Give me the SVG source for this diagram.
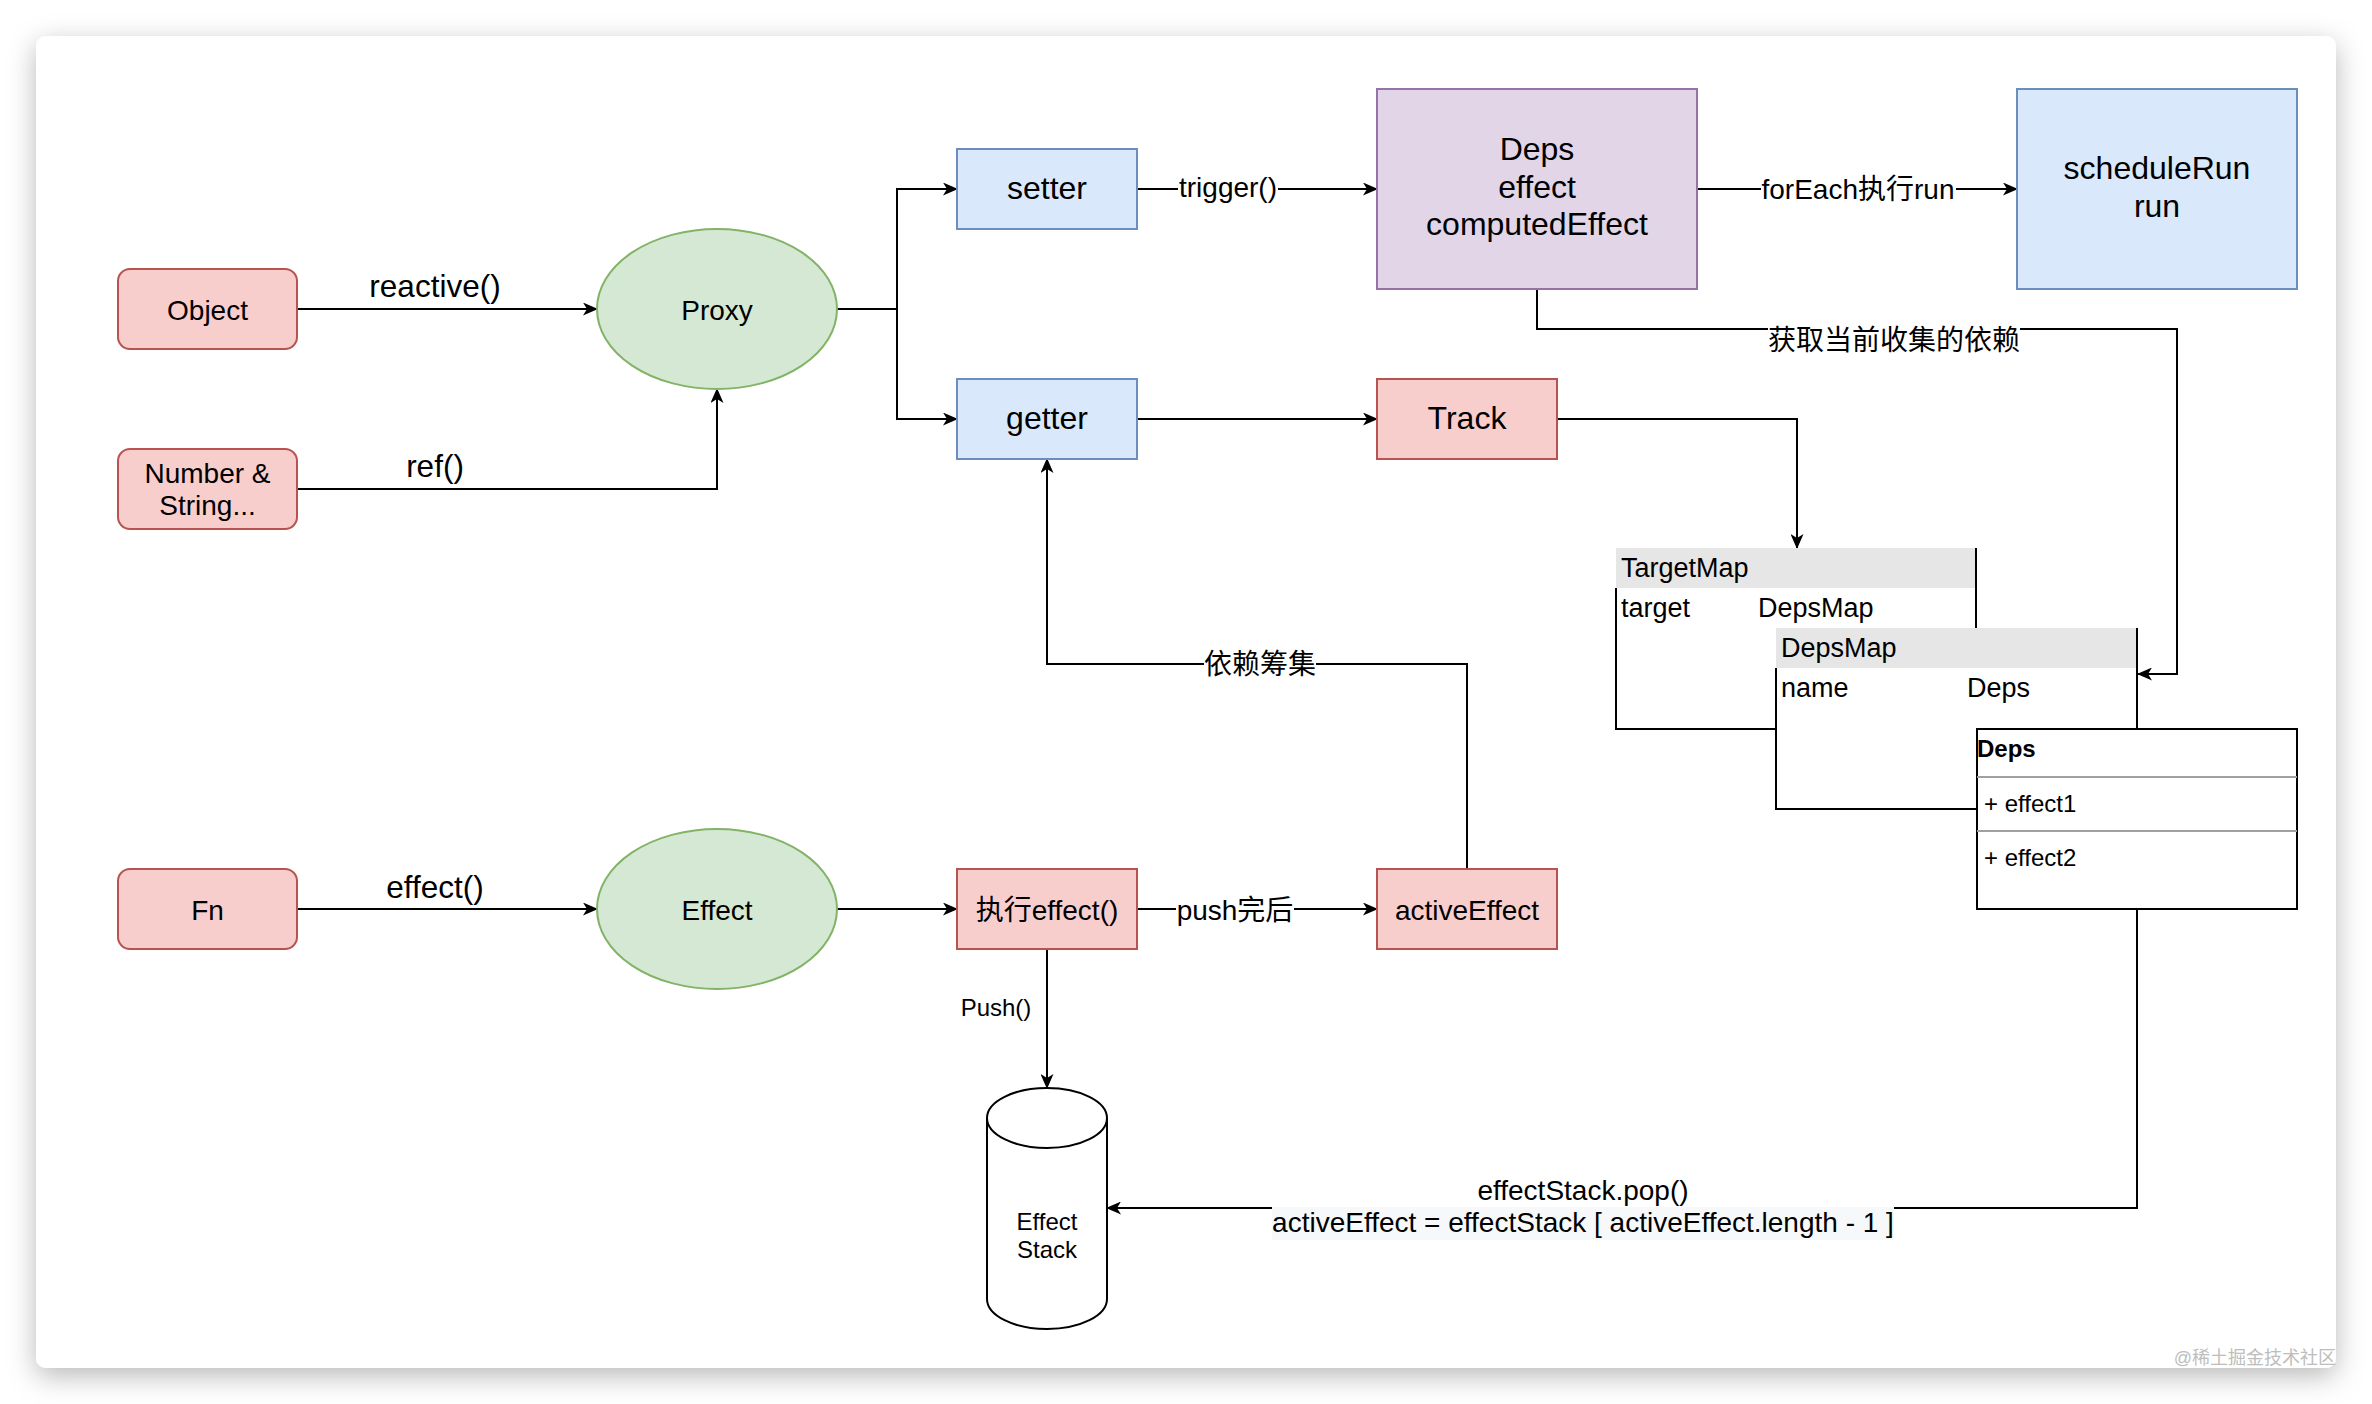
<svg xmlns="http://www.w3.org/2000/svg" width="2372" height="1404" viewBox="0 0 2372 1404">
<style>
text{font-family:"Liberation Sans",Arial,"Noto Sans CJK SC",sans-serif;fill:#000}
.c{text-anchor:middle}
.n28{font-size:28px}
.n32{font-size:32px}
.e{font-size:31.5px}
.s24{font-size:24px}
.t27{font-size:27px}
.red{fill:#f8cecc;stroke:#b85450;stroke-width:2}
.blue{fill:#dae8fc;stroke:#6c8ebf;stroke-width:2}
.green{fill:#d5e8d4;stroke:#82b366;stroke-width:2}
.purple{fill:#e1d5e7;stroke:#9673a6;stroke-width:2}
.ln{fill:none;stroke:#000;stroke-width:2}
.arr{fill:none;stroke:#000;stroke-width:2;marker-end:url(#ah)}
.hdr{fill:#e6e6e6}
.bg{fill:#fff}
</style>
<defs>
<marker id="ah" markerUnits="userSpaceOnUse" viewBox="0 0 15 13" refX="14" refY="6.5" markerWidth="15" markerHeight="13" orient="auto">
<path d="M0,0 L15,6.5 L0,13 L4,6.5 Z" fill="#000"/>
</marker>
<filter id="sh" x="-5%" y="-5%" width="110%" height="110%">
<feDropShadow dx="0" dy="8" stdDeviation="14" flood-color="#000" flood-opacity="0.28"/>
</filter>
</defs>
<rect x="0" y="0" width="2372" height="1404" fill="#fff"/>
<rect x="36" y="36" width="2300" height="1332" rx="10" fill="#fff" filter="url(#sh)"/>

<g id="connectors">
<path class="arr" d="M297,309 H597"/>
<path class="arr" d="M297,489 H717 V389"/>
<path class="arr" d="M837,309 H897 V189 H957"/>
<path class="arr" d="M897,309 V419 H957"/>
<path class="arr" d="M1137,189 H1377"/>
<path class="arr" d="M1697,189 H2017"/>
<path class="arr" d="M1537,289 V329 H2177 V674 H2138"/>
<path class="arr" d="M1137,419 H1377"/>
<path class="arr" d="M1557,419 H1797 V548"/>
<path class="arr" d="M297,909 H597"/>
<path class="arr" d="M837,909 H957"/>
<path class="arr" d="M1137,909 H1377"/>
<path class="arr" d="M1467,869 V664 H1047 V459"/>
<path class="arr" d="M1047,949 V1088"/>
<path class="arr" d="M2137,909 V1208 H1107"/>
<!-- labels -->
<text class="e c" x="435" y="297">reactive()</text>
<text class="e c" x="435" y="477">ref()</text>
<text class="e c" x="435" y="898">effect()</text>
<rect class="bg" x="1178" y="174" width="100" height="30"/>
<text class="n28 c" x="1228" y="197">trigger()</text>
<rect class="bg" x="1761" y="174" width="195" height="32"/>
<text class="n28 c" x="1858" y="199">forEach执行run</text>
<rect class="bg" x="1768" y="322" width="252" height="34"/>
<text class="n28 c" x="1894" y="350">获取当前收集的依赖</text>
<rect class="bg" x="1204" y="650" width="112" height="30"/>
<text class="n28 c" x="1260" y="674">依赖筹集</text>
<rect class="bg" x="1176" y="896" width="118" height="32"/>
<text class="n28 c" x="1235" y="920">push完后</text>
<text class="s24 c" x="996" y="1016">Push()</text>
<rect class="bg" x="1272" y="1176" width="622" height="32"/>
<rect x="1272" y="1207" width="622" height="33" fill="#f6f8fa"/>
<text class="n28 c" x="1583" y="1200">effectStack.pop()</text>
<text class="n28 c" x="1583" y="1232">activeEffect = effectStack [ activeEffect.length - 1 ]</text>
</g>

<g id="node-object">
<rect class="red" x="118" y="269" width="179" height="80" rx="12"/>
<text class="n28 c" x="207.5" y="320">Object</text>
</g>
<g id="node-number">
<rect class="red" x="118" y="449" width="179" height="80" rx="12"/>
<text class="n28 c" x="207.5" y="483">Number &amp;</text>
<text class="n28 c" x="207.5" y="515">String...</text>
</g>
<g id="node-proxy">
<ellipse class="green" cx="717" cy="309" rx="120" ry="80"/>
<text class="n28 c" x="717" y="320">Proxy</text>
</g>
<g id="node-setter">
<rect class="blue" x="957" y="149" width="180" height="80"/>
<text class="n32 c" x="1047" y="199">setter</text>
</g>
<g id="node-getter">
<rect class="blue" x="957" y="379" width="180" height="80"/>
<text class="n32 c" x="1047" y="429">getter</text>
</g>
<g id="node-deps">
<rect class="purple" x="1377" y="89" width="320" height="200"/>
<text class="n32 c" x="1537" y="160">Deps</text>
<text class="n32 c" x="1537" y="197.5">effect</text>
<text class="n32 c" x="1537" y="235">computedEffect</text>
</g>
<g id="node-schedule">
<rect class="blue" x="2017" y="89" width="280" height="200"/>
<text class="n32 c" x="2157" y="179">scheduleRun</text>
<text class="n32 c" x="2157" y="217">run</text>
</g>
<g id="node-track">
<rect class="red" x="1377" y="379" width="180" height="80"/>
<text class="n32 c" x="1467" y="429">Track</text>
</g>
<g id="node-targetmap">
<rect class="bg" x="1616" y="548" width="360" height="181"/>
<rect class="hdr" x="1616" y="548" width="360" height="40"/>
<path class="ln" d="M1976,548 V729 H1616 V588"/>
<text class="t27" x="1621" y="577">TargetMap</text>
<text class="t27" x="1621" y="617">target</text>
<text class="t27" x="1758" y="617">DepsMap</text>
</g>
<g id="node-depsmap">
<rect class="bg" x="1776" y="628" width="361" height="181"/>
<rect class="hdr" x="1776" y="628" width="361" height="40"/>
<path class="ln" d="M2137,628 V809 H1776 V668"/>
<text class="t27" x="1781" y="657">DepsMap</text>
<text class="t27" x="1781" y="697">name</text>
<text class="t27" x="1967" y="697">Deps</text>
</g>
<g id="node-depsclass">
<rect x="1977" y="729" width="320" height="180" fill="#fff" stroke="#000" stroke-width="2"/>
<line x1="1977" y1="777" x2="2297" y2="777" stroke="#a0a0a0" stroke-width="2"/>
<line x1="1977" y1="831" x2="2297" y2="831" stroke="#a0a0a0" stroke-width="2"/>
<text class="s24" x="1977" y="757" font-weight="bold">Deps</text>
<text class="s24" x="1984" y="812">+ effect1</text>
<text class="s24" x="1984" y="866">+ effect2</text>
</g>
<g id="node-fn">
<rect class="red" x="118" y="869" width="179" height="80" rx="12"/>
<text class="n28 c" x="207.5" y="920">Fn</text>
</g>
<g id="node-effect">
<ellipse class="green" cx="717" cy="909" rx="120" ry="80"/>
<text class="n28 c" x="717" y="920">Effect</text>
</g>
<g id="node-run-effect">
<rect class="red" x="957" y="869" width="180" height="80"/>
<text class="n28 c" x="1047" y="920">执行effect()</text>
</g>
<g id="node-active-effect">
<rect class="red" x="1377" y="869" width="180" height="80"/>
<text class="n28 c" x="1467" y="920">activeEffect</text>
</g>
<g id="node-effect-stack">
<path d="M987,1118 A60,30 0 0 1 1107,1118 L1107,1299 A60,30 0 0 1 987,1299 Z" fill="#fff" stroke="#000" stroke-width="2"/>
<path d="M987,1118 A60,30 0 0 0 1107,1118" fill="none" stroke="#000" stroke-width="2"/>
<text class="s24 c" x="1047" y="1230">Effect</text>
<text class="s24 c" x="1047" y="1258">Stack</text>
</g>
<text x="2336" y="1364" font-size="18" style="fill:#bdbdbd;text-anchor:end">@稀土掘金技术社区</text>
</svg>
